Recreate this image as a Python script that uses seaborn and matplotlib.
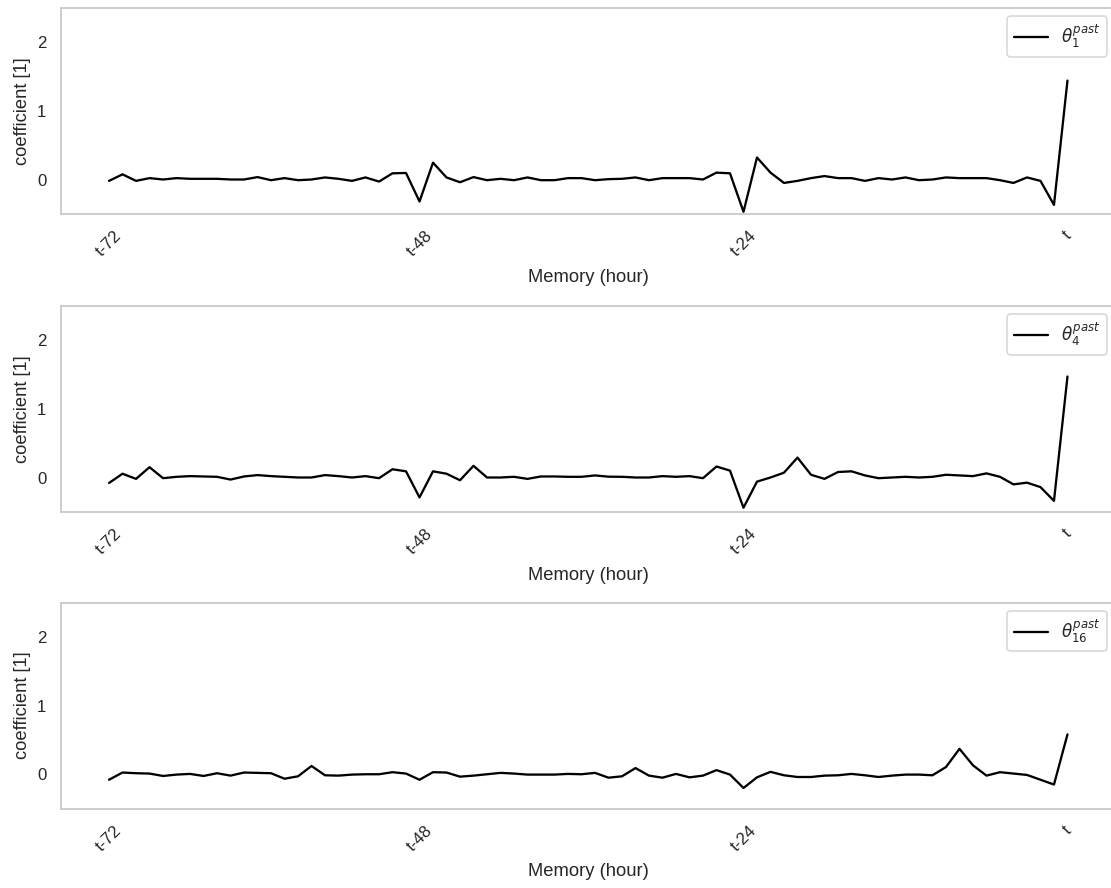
import numpy as np
import pandas as pd
import matplotlib
matplotlib.use("Agg")
import matplotlib.pyplot as plt
import seaborn as sns

# ---- data ----
theta_1 = [-0.02, 0.075, -0.02, 0.02, 0.0, 0.02, 0.01, 0.01, 0.01, 0.0,
           0.0, 0.035, -0.01, 0.02, -0.01, 0.0, 0.03, 0.01, -0.02, 0.03,
           -0.03, 0.09, 0.095, -0.32, 0.245, 0.03, -0.04, 0.035, -0.01, 0.01,
           -0.01, 0.03, -0.01, -0.01, 0.02, 0.02, -0.01, 0.005, 0.01, 0.03,
           -0.01, 0.02, 0.02, 0.02, 0.0, 0.10, 0.09, -0.47, 0.32, 0.10,
           -0.05, -0.02, 0.02, 0.05, 0.02, 0.02, -0.02, 0.02, 0.0, 0.03,
           -0.01, 0.0, 0.03, 0.02, 0.02, 0.02, -0.01, -0.05, 0.03, -0.02,
           -0.37, 1.44]
theta_4 = [-0.08, 0.055, -0.02, 0.15, -0.01, 0.01, 0.02, 0.015, 0.01, -0.03,
           0.015, 0.035, 0.02, 0.01, 0.0, 0.0, 0.035, 0.02, 0.0, 0.02,
           -0.01, 0.12, 0.09, -0.29, 0.09, 0.055, -0.04, 0.17, 0.0, 0.0,
           0.01, -0.02, 0.015, 0.015, 0.01, 0.01, 0.03, 0.012, 0.01, 0.0,
           0.0, 0.02, 0.01, 0.02, -0.01, 0.16, 0.10, -0.44, -0.06, 0.0,
           0.07, 0.29, 0.04, -0.02, 0.08, 0.09, 0.03, -0.01, 0.0, 0.01,
           0.0, 0.01, 0.04, 0.03, 0.02, 0.06, 0.01, -0.10, -0.075, -0.14,
           -0.34, 1.47]
theta_16 = [-0.08, 0.025, 0.015, 0.01, -0.025, -0.005, 0.005, -0.025, 0.015, -0.02,
            0.025, 0.02, 0.015, -0.065, -0.03, 0.12, -0.015, -0.02, -0.005, 0.0,
            0.0, 0.03, 0.01, -0.08, 0.03, 0.025, -0.035, -0.02, 0.0, 0.02,
            0.01, -0.005, -0.005, -0.005, 0.005, 0.0, 0.02, -0.05, -0.03, 0.09,
            -0.02, -0.05, 0.005, -0.045, -0.02, 0.06, -0.005, -0.2, -0.045, 0.035,
            -0.015, -0.04, -0.04, -0.02, -0.015, 0.005, -0.015, -0.04, -0.02, -0.005,
            -0.005, -0.015, 0.105, 0.37, 0.13, -0.02, 0.03, 0.01, -0.01, -0.08,
            -0.15, 0.58]

series = [theta_1, theta_4, theta_16]
labels = [r'$\theta^{past}_{1}$', r'$\theta^{past}_{4}$', r'$\theta^{past}_{16}$']
tick_positions = [0, 23, 47, 71]
tick_labels = ['t-72', 't-48', 't-24', 't']
hours = np.arange(len(theta_1))

# ---- style ----
sns.set_theme(style="whitegrid", context="notebook")
plt.rcParams['font.family'] = ['Liberation Sans', 'DejaVu Sans']

DPI = 110
fig = plt.figure(figsize=(1111 / DPI, 888 / DPI), dpi=DPI)

left = 61.1 / 1111
width = (1115.4 - 61.1) / 1111
height = 206.1 / 888
bottoms = [(888 - 213.85) / 888, (888 - 511.85) / 888, (888 - 808.6) / 888]

for vals, lab, b in zip(series, labels, bottoms):
    ax = fig.add_axes([left, b, width, height])
    df = pd.DataFrame({"hour": hours, "coef": vals})
    sns.lineplot(data=df, x="hour", y="coef", color="black", label=lab, ax=ax)
    ax.grid(False)
    ax.set_ylim(-0.5, 2.5)
    ax.set_yticks([0, 1, 2])
    ax.set_xticks(tick_positions)
    ax.set_xticklabels(tick_labels, rotation=45)
    ax.set_xlabel("Memory (hour)", labelpad=6)
    ax.set_ylabel("coefficient [1]")
    ax.legend(loc="upper right")

fig.savefig("out.png", dpi=DPI)
